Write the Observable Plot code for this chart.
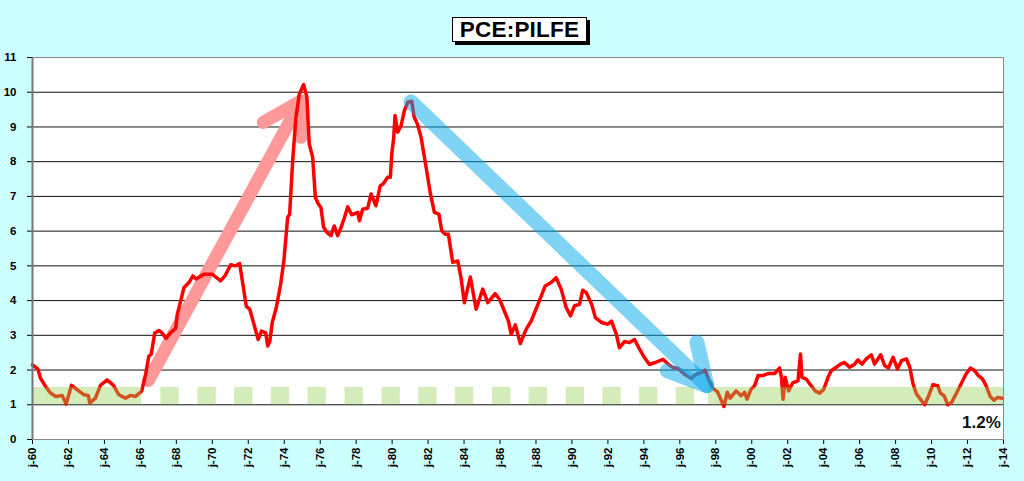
<!DOCTYPE html>
<html>
<head>
<meta charset="utf-8">
<script src="https://cdn.jsdelivr.net/npm/d3@7"></script>
<script src="https://cdn.jsdelivr.net/npm/@observablehq/plot@0.6"></script>
<style>
  html, body { margin: 0; padding: 0; background: #ccffff; }
  #wrap { position: relative; width: 1024px; height: 481px; overflow: hidden; }
  #title {
    position: absolute; left: 452px; top: 17px; width: 133px; height: 23px;
    background: #fff; border: 1px solid #000; box-shadow: 3px 3px 0 #000;
    font: bold 22.5px "Liberation Sans", Arial, sans-serif; text-align: center; line-height: 24px;
    color: #000; z-index: 2; letter-spacing: 0.2px;
  }
</style>
</head>
<body>
<div id="wrap"><div id="title">PCE:PILFE</div></div>
<script>
// ---- data ----
const years = [1960.0,1960.3,1960.44,1960.72,1961.0,1961.3,1961.65,1961.87,1962.17,1962.5,1962.85,1963.1,1963.19,1963.5,1963.78,1964.15,1964.5,1964.8,1965.17,1965.45,1965.73,1966.07,1966.29,1966.47,1966.6,1966.8,1967.03,1967.2,1967.43,1967.67,1967.96,1968.05,1968.24,1968.42,1968.7,1968.92,1969.1,1969.53,1969.99,1970.46,1970.7,1971.02,1971.3,1971.52,1971.7,1971.89,1972.08,1972.32,1972.55,1972.73,1972.97,1973.08,1973.2,1973.33,1973.56,1973.8,1973.98,1974.19,1974.3,1974.47,1974.65,1974.84,1975.08,1975.26,1975.39,1975.58,1975.73,1975.9,1976.04,1976.19,1976.38,1976.6,1976.78,1976.97,1977.16,1977.35,1977.53,1977.75,1978.09,1978.18,1978.36,1978.64,1978.83,1979.1,1979.34,1979.5,1979.75,1979.9,1979.98,1980.09,1980.16,1980.31,1980.5,1980.68,1980.87,1981.09,1981.23,1981.4,1981.61,1981.89,1982.13,1982.35,1982.6,1982.76,1982.95,1983.13,1983.37,1983.65,1983.83,1984.02,1984.35,1984.67,1985.04,1985.32,1985.73,1985.97,1986.24,1986.47,1986.62,1986.85,1987.13,1987.45,1987.73,1988.0,1988.29,1988.51,1988.84,1989.12,1989.4,1989.68,1989.92,1990.14,1990.42,1990.6,1990.8,1991.1,1991.3,1991.64,1992.0,1992.2,1992.47,1992.64,1992.92,1993.2,1993.48,1993.76,1994.03,1994.31,1994.6,1995.06,1995.33,1995.62,1995.9,1996.26,1996.63,1996.9,1997.19,1997.4,1997.6,1997.84,1998.1,1998.45,1998.64,1998.8,1999.13,1999.4,1999.6,1999.74,1999.96,2000.16,2000.35,2000.62,2000.9,2001.27,2001.55,2001.65,2001.74,2001.86,2002.05,2002.29,2002.57,2002.71,2002.79,2003.03,2003.3,2003.53,2003.77,2004.01,2004.24,2004.42,2004.7,2004.94,2005.16,2005.44,2005.72,2005.91,2006.13,2006.37,2006.65,2006.83,2007.17,2007.39,2007.6,2007.86,2008.1,2008.33,2008.6,2008.79,2008.97,2009.16,2009.44,2009.62,2009.84,2010.08,2010.34,2010.5,2010.7,2010.9,2011.12,2011.36,2011.64,2011.91,2012.16,2012.4,2012.6,2012.84,2013.03,2013.27,2013.48,2013.67,2013.95];
const values = [2.15,2.03,1.77,1.53,1.34,1.24,1.27,1.02,1.56,1.43,1.29,1.27,1.05,1.19,1.56,1.72,1.56,1.29,1.19,1.27,1.24,1.39,1.87,2.40,2.45,3.07,3.14,3.07,2.91,3.07,3.20,3.60,3.99,4.37,4.52,4.71,4.62,4.76,4.76,4.57,4.71,5.03,5.00,5.07,4.47,3.84,3.75,3.31,2.88,3.12,3.07,2.69,2.83,3.36,3.80,4.47,5.15,6.39,6.49,8.03,9.28,9.95,10.22,9.86,8.51,8.13,6.97,6.78,6.68,6.11,5.96,5.87,6.15,5.87,6.11,6.39,6.70,6.47,6.54,6.30,6.63,6.66,7.07,6.73,7.31,7.36,7.55,7.55,8.22,8.70,9.33,8.85,9.04,9.47,9.71,9.74,9.28,9.09,8.70,7.84,7.07,6.54,6.49,6.01,5.91,5.91,5.10,5.14,4.66,3.94,4.68,3.75,4.33,3.94,4.20,4.04,3.70,3.41,3.03,3.30,2.76,3.17,3.41,3.75,4.13,4.42,4.52,4.66,4.33,3.80,3.56,3.85,3.89,4.30,4.23,3.89,3.51,3.37,3.32,3.41,3.03,2.64,2.82,2.79,2.88,2.60,2.36,2.16,2.21,2.31,2.18,2.07,2.05,1.88,1.76,1.88,1.92,2.00,1.73,1.47,1.37,0.95,1.36,1.19,1.40,1.26,1.36,1.16,1.45,1.55,1.84,1.84,1.90,1.90,2.06,1.79,1.16,1.79,1.40,1.64,1.69,2.46,1.79,1.74,1.55,1.40,1.33,1.45,1.79,1.98,2.08,2.17,2.22,2.08,2.17,2.29,2.17,2.32,2.44,2.17,2.44,2.13,2.06,2.37,2.03,2.27,2.32,2.08,1.60,1.31,1.12,1.00,1.26,1.58,1.55,1.33,1.26,1.00,1.07,1.31,1.60,1.88,2.06,1.98,1.84,1.74,1.55,1.23,1.13,1.21,1.19];

const xTicks = [1960,1962,1964,1966,1968,1970,1972,1974,1976,1978,1980,1982,1984,1986,1988,1990,1992,1994,1996,1998,2000,2002,2004,2006,2008,2010,2012,2014];
const xLabels = ["j-60","j-62","j-64","j-66","j-68","j-70","j-72","j-74","j-76","j-78","j-80","j-82","j-84","j-86","j-88","j-90","j-92","j-94","j-96","j-98","j-00","j-02","j-04","j-06","j-08","j-10","j-12","j-14"];
const yTicks = [0,1,2,3,4,5,6,7,8,9,10,11];
const gridValues = [1,2,3,4,5,6,7,8,9,10];

// target band 1%–1.5%
const bandLow = 1, bandHigh = 1.5;
const bandStarts = [1960,1967.14,1969.20,1971.24,1973.28,1975.32,1977.38,1979.44,1981.48,1983.52,1985.58,1987.62,1989.68,1991.72,1993.76,1995.80,1997.60];
const bandEnds   = [1966.08,1968.16,1970.22,1972.26,1974.30,1976.34,1978.40,1980.46,1982.50,1984.54,1986.60,1988.64,1990.70,1992.74,1994.78,1996.82,2014];

// arrows (shaft + head polyline)
const redArrowT = [1966.45,1974.93, 1972.83,1974.93,1974.93];
const redArrowV = [1.70,9.75, 9.13,9.75,8.70];
const redArrowPart = ["shaft","shaft","head","head","head"];
const blueArrowT = [1981.05,1997.5, 1996.95,1997.5,1995.3];
const blueArrowV = [9.72,1.55, 2.80,1.55,1.98];
const blueArrowPart = ["shaft","shaft","head","head","head"];

const lastLabel = "1.2%";

// ---- tables built from the arrays ----
const series = years.map((t, i) => ({t, v: values[i]}));
const band = bandStarts.map((s, i) => ({x1: s, x2: bandEnds[i]}));
const redArrow = redArrowT.map((t, i) => ({t, v: redArrowV[i], z: redArrowPart[i]}));
const blueArrow = blueArrowT.map((t, i) => ({t, v: blueArrowV[i], z: blueArrowPart[i]}));

const chart = Plot.plot({
  width: 1024,
  height: 481,
  marginLeft: 32,
  marginRight: 21,
  marginTop: 57,
  marginBottom: 42,
  style: {background: "transparent", fontFamily: "'Liberation Sans', Arial, sans-serif", fontSize: "11.5px", fontWeight: "bold", color: "#000"},
  x: {domain: [1960, 2014], ticks: xTicks, tickFormat: d => xLabels[xTicks.indexOf(d)], tickRotate: -90, tickSize: 5, tickPadding: 3, label: null},
  y: {domain: [0, 11], ticks: yTicks, tickSize: 5, tickPadding: 11, label: null},
  marks: [
    Plot.frame({fill: "white", stroke: null}),
    Plot.ruleY(gridValues, {stroke: "#111", strokeWidth: 1}),
    Plot.line(redArrow, {x: "t", y: "v", z: "z", stroke: "#ff9999", strokeWidth: 13, strokeLinecap: "round", strokeLinejoin: "round"}),
    Plot.line(series, {x: "t", y: "v", stroke: "#ff0000", strokeWidth: 3.5, strokeLinejoin: "round"}),
    Plot.rect(band, {x1: "x1", x2: "x2", y1: bandLow, y2: bandHigh, fill: "#92d050", opacity: 0.4}),
    Plot.line(blueArrow, {x: "t", y: "v", z: "z", stroke: "#00a8ec", strokeWidth: 15, strokeLinecap: "round", strokeLinejoin: "round", opacity: 0.5}),
    Plot.frame({stroke: "#888", strokeWidth: 1}),
    Plot.ruleX([1960], {stroke: "#777", strokeWidth: 2}),
    Plot.text([lastLabel], {x: 2013.85, y: 0.5, text: d => d, textAnchor: "end", fontSize: 17, fontWeight: "bold", fill: "#111"})
  ]
});
document.getElementById("wrap").appendChild(chart);
</script>
</body>
</html>
